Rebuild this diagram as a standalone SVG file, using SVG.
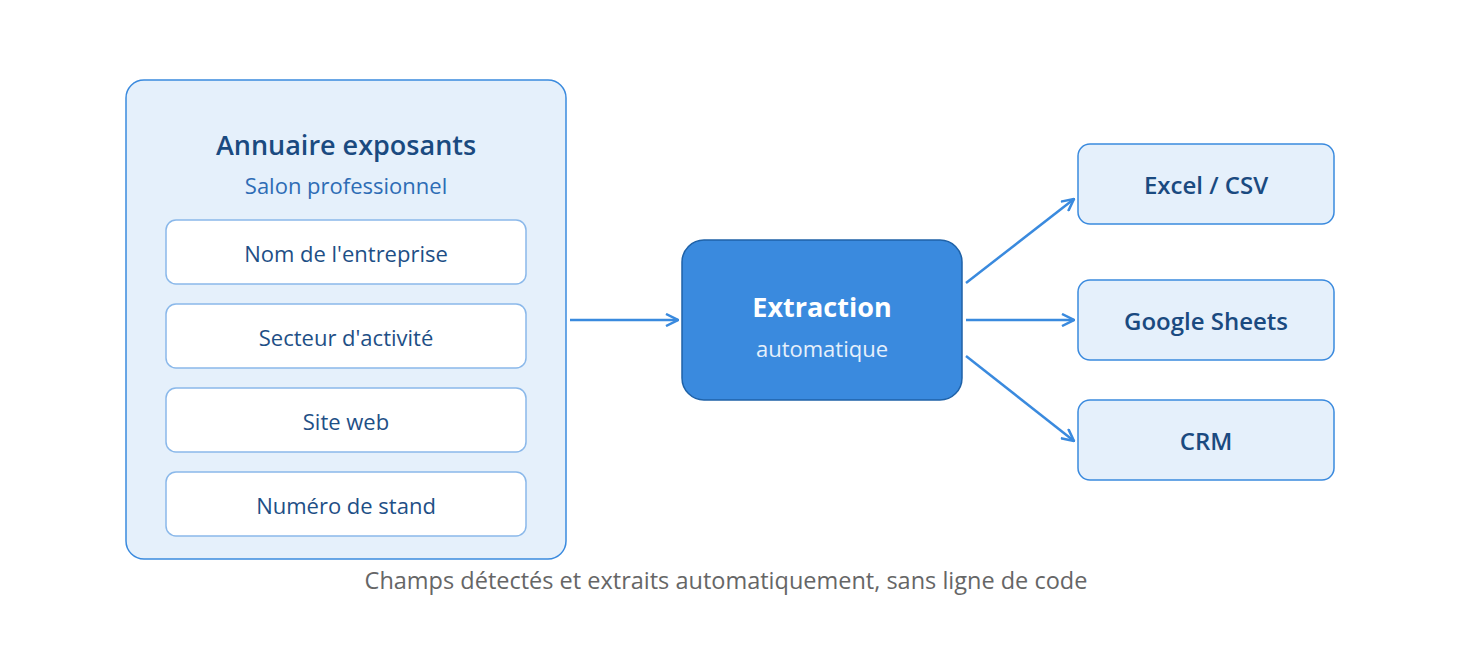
<svg xmlns="http://www.w3.org/2000/svg" width="1472" height="660" viewBox="0 0 1472 660">
<style>
text{font-family:"Open Sans","Noto Sans",sans-serif;text-anchor:middle}
.field{fill:#fff;stroke:#8ab8ea;stroke-width:1.5}
.ft{font-size:22px;fill:#1e4f86}
.out{fill:#e5f0fb;stroke:#3a8ade;stroke-width:1.5}
.ot{font-size:24px;font-weight:600;fill:#1a4a80}
.c{stroke:#3a8ade;stroke-width:2.5;fill:none}
</style>
<defs><marker id="a" viewBox="0 0 14 14" refX="13" refY="7" markerWidth="14" markerHeight="14" markerUnits="userSpaceOnUse" orient="auto"><path d="M1 1 L13 7 L1 13" fill="none" stroke="#3a8ade" stroke-width="2.5"/></marker></defs>
<rect width="1472" height="660" fill="#fff"/>
<g id="annuaire">
<rect x="126" y="80" width="440" height="479" rx="18" fill="#e5f0fb" stroke="#3a8ade" stroke-width="1.5"/>
<text x="346" y="155" font-size="27" font-weight="600" fill="#1a4a80">Annuaire exposants</text>
<text x="346" y="194" font-size="22" fill="#2d6cb5">Salon professionnel</text>
</g>
<g id="f1"><rect class="field" x="166" y="220" width="360" height="64" rx="10"/><text class="ft" x="346" y="262">Nom de l'entreprise</text></g>
<g id="f2"><rect class="field" x="166" y="304" width="360" height="64" rx="10"/><text class="ft" x="346" y="346">Secteur d'activité</text></g>
<g id="f3"><rect class="field" x="166" y="388" width="360" height="64" rx="10"/><text class="ft" x="346" y="430">Site web</text></g>
<g id="f4"><rect class="field" x="166" y="472" width="360" height="64" rx="10"/><text class="ft" x="346" y="514">Numéro de stand</text></g>
<g id="extraction">
<rect x="682" y="240" width="280" height="160" rx="22" fill="#3a8ade" stroke="#1f62a8" stroke-width="1.5"/>
<text x="822" y="317" font-size="27" font-weight="700" fill="#fff">Extraction</text>
<text x="822" y="357" font-size="22" fill="#e6f0fb">automatique</text>
</g>
<g id="excel"><rect class="out" x="1078" y="144" width="256" height="80" rx="12"/><text class="ot" x="1206" y="194">Excel / CSV</text></g>
<g id="sheets"><rect class="out" x="1078" y="280" width="256" height="80" rx="12"/><text class="ot" x="1206" y="330">Google Sheets</text></g>
<g id="crm"><rect class="out" x="1078" y="400" width="256" height="80" rx="12"/><text class="ot" x="1206" y="450">CRM</text></g>
<g id="connectors">
<line class="c" x1="570" y1="320" x2="678" y2="320" marker-end="url(#a)"/>
<line class="c" x1="966" y1="283" x2="1074" y2="199" marker-end="url(#a)"/>
<line class="c" x1="966" y1="320" x2="1074" y2="320" marker-end="url(#a)"/>
<line class="c" x1="966" y1="356" x2="1074" y2="441" marker-end="url(#a)"/>
</g>
<text x="726" y="589" font-size="23.5" fill="#666">Champs détectés et extraits automatiquement, sans ligne de code</text>
</svg>
